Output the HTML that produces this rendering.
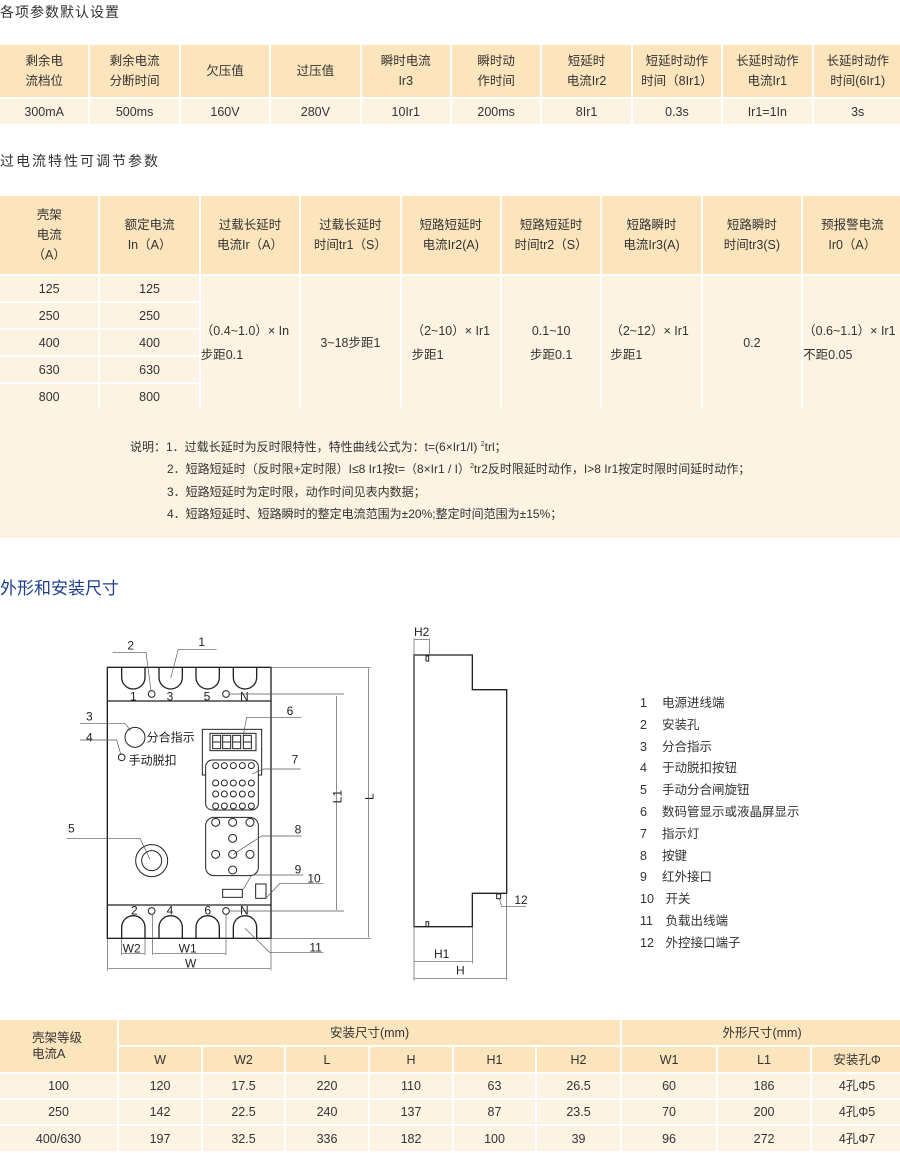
<!DOCTYPE html>
<html><head><meta charset="utf-8"><style>
body{margin:0;width:900px;height:1151px;position:relative;background:#fff;font-family:"Liberation Sans","Noto Sans CJK SC",sans-serif;color:#333;overflow:hidden}
.t{position:absolute;white-space:nowrap}
table{position:absolute;border-collapse:collapse;table-layout:fixed;font-size:12.5px;color:#333}
td{border:2px solid #fff;text-align:center;padding:0;line-height:20px}
.h td,td.h{background:#fce5bd}
.d td,td.d{background:#fdf3e2}
</style></head><body>
<div class="t" style="left:0;top:2px;font-size:14px;letter-spacing:1px">各项参数默认设置</div>

<table style="left:-2px;top:43px;width:904px">
<colgroup><col span="10" style="width:90.4px"></colgroup>
<tr class="h" style="height:54px"><td>剩余电<br>流档位</td><td>剩余电流<br>分断时间</td><td>欠压值</td><td>过压值</td><td>瞬时电流<br>Ir3</td><td>瞬时动<br>作时间</td><td>短延时<br>电流Ir2</td><td>短延时动作<br>时间（8Ir1）</td><td>长延时动作<br>电流Ir1</td><td>长延时动作<br>时间(6Ir1)</td></tr>
<tr class="d" style="height:27px"><td>300mA</td><td>500ms</td><td>160V</td><td>280V</td><td>10Ir1</td><td>200ms</td><td>8Ir1</td><td>0.3s</td><td>Ir1=1In</td><td>3s</td></tr>
</table>

<div class="t" style="left:0;top:151px;font-size:14px;letter-spacing:2px">过电流特性可调节参数</div>

<table style="left:-2px;top:194px;width:904px">
<colgroup><col span="9" style="width:100.4px"></colgroup>
<tr class="h" style="height:80px"><td>壳架<br>电流<br>（A）</td><td>额定电流<br>In（A）</td><td>过载长延时<br>电流Ir（A）</td><td>过载长延时<br>时间tr1（S）</td><td>短路短延时<br>电流Ir2(A)</td><td>短路短延时<br>时间tr2（S）</td><td>短路瞬时<br>电流Ir3(A)</td><td>短路瞬时<br>时间tr3(S)</td><td>预报警电流<br>Ir0（A）</td></tr>
<tr class="d" style="height:27px"><td>125</td><td>125</td><td rowspan="5" style="text-align:left;line-height:24px">（0.4~1.0）× In<br>步距0.1</td><td rowspan="5">3~18步距1</td><td rowspan="5" style="text-align:left;padding-left:10px;line-height:24px">（2~10）× Ir1<br>步距1</td><td rowspan="5" style="line-height:24px">0.1~10<br>步距0.1</td><td rowspan="5" style="text-align:left;padding-left:8px;line-height:24px">（2~12）× Ir1<br>步距1</td><td rowspan="5">0.2</td><td rowspan="5" style="text-align:left;line-height:24px">（0.6~1.1）× Ir1<br>不距0.05</td></tr>
<tr class="d" style="height:27px"><td>250</td><td>250</td></tr>
<tr class="d" style="height:27px"><td>400</td><td>400</td></tr>
<tr class="d" style="height:27px"><td>630</td><td>630</td></tr>
<tr class="d" style="height:27px"><td>800</td><td>800</td></tr>
</table>
<div style="position:absolute;left:0;top:408px;width:900px;height:130px;background:#fdf3e2"></div>
<div class="t" style="left:130px;top:434px;font-size:12px;line-height:22.5px">说明：1．过载长延时为反时限特性，特性曲线公式为：t=(6×Ir1/I) <sup style="font-size:7px">2</sup>trl；</div>
<div class="t" style="left:167px;top:456px;font-size:12px;line-height:22.5px">2．短路短延时（反时限+定时限）I≤8 Ir1按t=（8×Ir1 / I）<sup style="font-size:7px">2</sup>tr2反时限延时动作，I&gt;8 Ir1按定时限时间延时动作；<br>3．短路短延时为定时限，动作时间见表内数据；<br>4．短路短延时、短路瞬时的整定电流范围为±20%;整定时间范围为±15%；</div>

<div class="t" style="left:0;top:574px;font-size:17px;color:#1e3f8f">外形和安装尺寸</div>

<svg style="position:absolute;left:90px;top:620px;overflow:visible" width="300" height="370" viewBox="0 0 900 1110" font-family="Liberation Sans,Noto Sans CJK SC,sans-serif" fill="none" stroke="#222" stroke-width="3">
<rect x="52" y="142" width="491" height="813" stroke-width="4"/>
<line x1="52" y1="243" x2="543" y2="243" stroke-width="4"/>
<line x1="52" y1="855" x2="543" y2="855" stroke-width="4"/>
<g stroke-width="4">
<path d="M95,142V172A35,35 0 0 0 165,172V142"/><path d="M207,142V172A35,35 0 0 0 277,172V142"/><path d="M318,142V172A35,35 0 0 0 388,172V142"/><path d="M430,142V172A35,35 0 0 0 500,172V142"/>
<path d="M95,955V922A35,35 0 0 1 165,922V955"/><path d="M207,955V922A35,35 0 0 1 277,922V955"/><path d="M318,955V922A35,35 0 0 1 388,922V955"/><path d="M430,955V922A35,35 0 0 1 500,922V955"/>
</g>
<circle cx="185" cy="222" r="10"/><circle cx="408" cy="222" r="10"/><circle cx="185" cy="873" r="10"/><circle cx="408" cy="873" r="10"/>
<g fill="#222" stroke="none" font-size="36">
<text x="120" y="242">1</text><text x="230" y="242">3</text><text x="341" y="242">5</text><text x="450" y="242">N</text>
<text x="123" y="884">2</text><text x="230" y="884">4</text><text x="343" y="884">6</text><text x="450" y="884">N</text>
<text x="325" y="78">1</text><text x="112" y="88">2</text><text x="-12" y="302">3</text><text x="-12" y="365">4</text><text x="-66" y="638">5</text>
<text x="590" y="285">6</text><text x="605" y="430">7</text><text x="614" y="640">8</text><text x="614" y="760">9</text><text x="652" y="787">10</text><text x="658" y="995">11</text>
<text x="170" y="364">分合指示</text><text x="116" y="434">手动脱扣</text>
<text x="285" y="1042">W</text><text x="98" y="997">W2</text><text x="266" y="997">W1</text>
<text transform="translate(754,530) rotate(-90)" text-anchor="middle">L1</text>
<text transform="translate(850,530) rotate(-90)" text-anchor="middle">L</text>
</g>
<circle cx="135" cy="352" r="30"/><circle cx="95" cy="412" r="10"/>
<circle cx="185" cy="722" r="48"/><circle cx="185" cy="722" r="30"/>
<rect x="337" y="328" width="178" height="137"/>
<rect x="360" y="340" width="138" height="52"/>
<g><rect x="368" y="346" width="24" height="40"/><line x1="368" y1="366" x2="392" y2="366"/><rect x="398" y="346" width="24" height="40"/><line x1="398" y1="366" x2="422" y2="366"/><rect x="428" y="346" width="24" height="40"/><line x1="428" y1="366" x2="452" y2="366"/><rect x="460" y="346" width="24" height="40"/><line x1="460" y1="366" x2="484" y2="366"/></g>
<rect x="347" y="420" width="158" height="150" rx="20" fill="#fff"/>
<g>
<circle cx="377" cy="437" r="9"/><circle cx="403" cy="437" r="9"/><circle cx="430" cy="437" r="9"/><circle cx="457" cy="437" r="9"/><circle cx="484" cy="437" r="9"/>
<circle cx="377" cy="489" r="9"/><circle cx="403" cy="489" r="9"/><circle cx="430" cy="489" r="9"/><circle cx="457" cy="489" r="9"/><circle cx="484" cy="489" r="9"/>
<circle cx="377" cy="522" r="9"/><circle cx="403" cy="522" r="9"/><circle cx="430" cy="522" r="9"/><circle cx="457" cy="522" r="9"/><circle cx="484" cy="522" r="9"/>
<circle cx="377" cy="558" r="9"/><circle cx="403" cy="558" r="9"/><circle cx="430" cy="558" r="9"/><circle cx="457" cy="558" r="9"/><circle cx="484" cy="558" r="9"/>
</g>
<rect x="347" y="592" width="158" height="175" rx="25"/>
<circle cx="377" cy="607" r="12"/><circle cx="428" cy="607" r="12"/><circle cx="480" cy="607" r="12"/><circle cx="428" cy="655" r="12"/><circle cx="377" cy="703" r="12"/><circle cx="428" cy="703" r="12"/><circle cx="480" cy="703" r="12"/><circle cx="428" cy="750" r="12"/>
<rect x="398" y="808" width="59" height="24"/><rect x="497" y="792" width="31" height="43"/>
<g stroke="#555" stroke-width="2">
<polyline points="380,88 265,88 242,175"/><polyline points="68,97 168,97 183,212"/>
<polyline points="-30,310 105,310 122,332"/><polyline points="-30,360 80,360 92,402"/><polyline points="-70,655 150,655 180,718"/>
<polyline points="635,292 470,292 460,345"/><polyline points="632,447 520,447 486,462"/><polyline points="635,648 515,648 430,703"/>
<polyline points="640,765 485,765 460,808"/><polyline points="700,790 570,790 530,832"/><polyline points="700,998 540,998 465,925"/>
<line x1="420" y1="222" x2="762" y2="222"/><line x1="420" y1="873" x2="762" y2="873"/><line x1="740" y1="228" x2="740" y2="870"/>
<line x1="543" y1="142" x2="842" y2="142"/><line x1="543" y1="955" x2="842" y2="955"/><line x1="835" y1="145" x2="835" y2="952"/>
<line x1="52" y1="955" x2="52" y2="1052"/><line x1="543" y1="955" x2="543" y2="1052"/><line x1="55" y1="1045" x2="540" y2="1045"/>
<line x1="95" y1="955" x2="95" y2="1005"/><line x1="165" y1="955" x2="165" y2="1005"/><line x1="97" y1="1000" x2="163" y2="1000"/>
<line x1="188" y1="882" x2="188" y2="1005"/><line x1="408" y1="882" x2="408" y2="1005"/><line x1="190" y1="1000" x2="406" y2="1000"/>
</g>
</svg>

<svg style="position:absolute;left:400px;top:620px;overflow:visible" width="140" height="360" viewBox="0 0 420 1080" font-family="Liberation Sans,sans-serif" fill="none" stroke="#222" stroke-width="4">
<path d="M42,105H217V209H320V820H217V920H42Z"/>
<rect x="78" y="108" width="8" height="15" stroke-width="3"/><rect x="78" y="905" width="8" height="15" stroke-width="3"/><rect x="290" y="822" width="12" height="14" stroke-width="3"/>
<g stroke="#555" stroke-width="2">
<line x1="42" y1="55" x2="42" y2="1082"/><line x1="88" y1="55" x2="88" y2="108"/><line x1="44" y1="58" x2="86" y2="58"/>
<line x1="217" y1="920" x2="217" y2="1030"/><line x1="44" y1="1025" x2="215" y2="1025"/>
<line x1="320" y1="820" x2="320" y2="1082"/><line x1="44" y1="1075" x2="318" y2="1075"/>
<polyline points="298,836 305,860 378,860"/>
</g>
<g fill="#222" stroke="none" font-size="36"><text x="42" y="48">H2</text><text x="102" y="1014">H1</text><text x="168" y="1064">H</text><text x="343" y="852">12</text></g>
</svg>

<div class="t" style="left:640px;top:693px;font-size:12.5px;line-height:21.8px">1<br>2<br>3<br>4<br>5<br>6<br>7<br>8<br>9<br>10<br>11<br>12</div>
<div class="t" style="left:662px;top:693px;font-size:12.5px;line-height:21.8px">电源进线端<br>安装孔<br>分合指示<br>于动脱扣按钮<br>手动分合闸旋钮<br>数码管显示或液晶屏显示<br>指示灯<br>按键<br>红外接口<br>&nbsp;开关<br>&nbsp;负载出线端<br>&nbsp;外控接口端子</div>

<table style="left:-2px;top:1018px;width:904px">
<colgroup><col style="width:119px"><col style="width:84px"><col style="width:83px"><col style="width:84px"><col style="width:84px"><col style="width:83px"><col style="width:85px"><col style="width:96px"><col style="width:94px"><col style="width:92px"></colgroup>
<tr style="height:27px"><td class="h" rowspan="2" style="text-align:left;padding-left:32px;line-height:16px">壳架等级<br>电流A</td><td class="h" colspan="6">安装尺寸(mm)</td><td class="h" colspan="3">外形尺寸(mm)</td></tr>
<tr class="h" style="height:27px"><td>W</td><td>W2</td><td>L</td><td>H</td><td>H1</td><td>H2</td><td>W1</td><td>L1</td><td>安装孔Φ</td></tr>
<tr class="d" style="height:26px"><td>100</td><td>120</td><td>17.5</td><td>220</td><td>110</td><td>63</td><td>26.5</td><td>60</td><td>186</td><td>4孔Φ5</td></tr>
<tr class="d" style="height:26px"><td>250</td><td>142</td><td>22.5</td><td>240</td><td>137</td><td>87</td><td>23.5</td><td>70</td><td>200</td><td>4孔Φ5</td></tr>
<tr class="d" style="height:27px"><td>400/630</td><td>197</td><td>32.5</td><td>336</td><td>182</td><td>100</td><td>39</td><td>96</td><td>272</td><td>4孔Φ7</td></tr>
</table>
</body></html>
